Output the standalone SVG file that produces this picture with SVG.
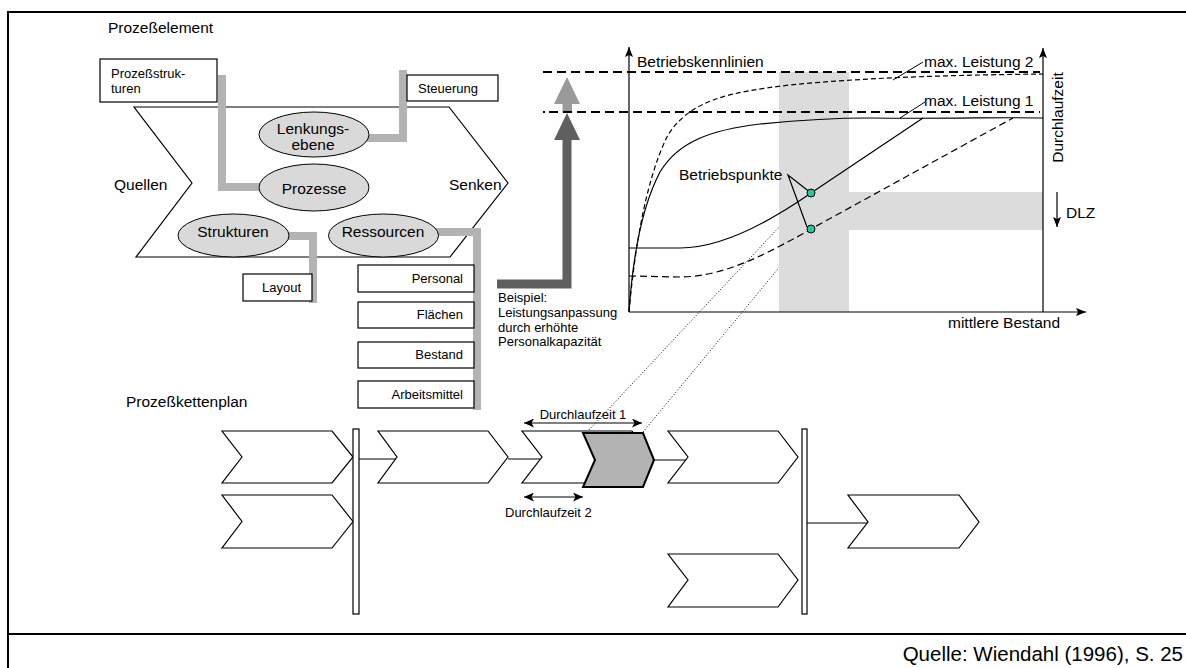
<svg xmlns="http://www.w3.org/2000/svg" width="1186" height="668" viewBox="0 0 1186 668">
<defs>
<style>
text{font-family:"Liberation Sans",Arial,sans-serif;fill:#000}
.l{font-size:15.5px}
.s{font-size:13px}
.box{fill:#fff;stroke:#000;stroke-width:1.2}
.ell{fill:#d9d9d9;stroke:#000;stroke-width:1}
.gc{fill:none;stroke:#b3b3b3;stroke-width:8;stroke-linejoin:miter}
.chev{fill:#fff;stroke:#000;stroke-width:1.2}
.ln{fill:none;stroke:#000;stroke-width:1.2}
.dot{fill:none;stroke:#000;stroke-width:1;stroke-dasharray:1 2}
.band{fill:#dcdcdc}
.pt{fill:#1fc89e;stroke:#000;stroke-width:1}
</style>
<marker id="ax" viewBox="0 0 10 8" markerWidth="10" markerHeight="8" refX="10" refY="4" orient="auto" markerUnits="userSpaceOnUse">
<path d="M0,0 L10,4 L0,8 L2,4 z" fill="#000"/>
</marker>
<marker id="ah" viewBox="0 0 10 9" markerWidth="10" markerHeight="9" refX="10" refY="4.5" orient="auto-start-reverse" markerUnits="userSpaceOnUse">
<path d="M0,0 L10,4.5 L0,9 L2.5,4.5 z" fill="#000"/>
</marker>
</defs>
<rect x="0" y="0" width="1186" height="668" fill="#fff"/>
<g id="frame">
<path d="M1186,12 L8,12 L8,668" fill="none" stroke="#000" stroke-width="2"/>
<line x1="8" y1="634" x2="1186" y2="634" stroke="#000" stroke-width="2.2"/>
<text x="1183" y="661" font-size="20.5" text-anchor="end">Quelle: Wiendahl (1996), S. 25</text>
</g>

<g id="prozesselement">
<text class="l" x="108" y="33">Prozeßelement</text>
<polygon class="chev" points="134,107 449,107 508,183 450,257 136,257 192,183"/>
<text class="l" x="114" y="190">Quellen</text>
<text class="l" x="449" y="190">Senken</text>
</g>

<g id="connectors">
<polyline class="gc" points="222,75 222,187 262,187"/>
<polyline class="gc" points="403,70 403,138 366,138"/>
<polyline class="gc" points="286,236 313,236 313,303"/>
<polyline class="gc" points="436,232 477,232 477,410"/>
<line class="dot" x1="587" y1="432" x2="811" y2="193"/>
<line class="dot" x1="643" y1="432" x2="811" y2="229"/>
</g>

<g id="box-prozessstrukturen">
<rect class="box" x="100" y="59" width="117" height="43"/>
<text class="s" x="111" y="78">Prozeßstruk-</text>
<text class="s" x="111" y="93">turen</text>
</g>
<g id="box-steuerung">
<rect class="box" x="407" y="75" width="91" height="26"/>
<text class="s" x="418" y="93">Steuerung</text>
</g>
<g id="ell-lenkung">
<ellipse class="ell" cx="314" cy="134.5" rx="55" ry="22.5"/>
<text class="l" x="313" y="134" text-anchor="middle">Lenkungs-</text>
<text class="l" x="313" y="150" text-anchor="middle">ebene</text>
</g>
<g id="ell-prozesse">
<ellipse class="ell" cx="314" cy="187.5" rx="55" ry="23.5"/>
<text class="l" x="314" y="194" text-anchor="middle">Prozesse</text>
</g>
<g id="ell-strukturen">
<ellipse class="ell" cx="233.5" cy="235.5" rx="55.5" ry="21.5"/>
<text class="l" x="233" y="237" text-anchor="middle">Strukturen</text>
</g>
<g id="ell-ressourcen">
<ellipse class="ell" cx="383.5" cy="235.5" rx="55" ry="21.5"/>
<text class="l" x="383" y="237" text-anchor="middle">Ressourcen</text>
</g>
<g id="box-layout">
<rect class="box" x="243" y="274" width="69" height="27"/>
<text class="s" x="262" y="292">Layout</text>
</g>
<g id="box-personal">
<rect class="box" x="358" y="265" width="116" height="27"/>
<text class="s" x="463" y="283" text-anchor="end">Personal</text>
</g>
<g id="box-flaechen">
<rect class="box" x="358" y="302" width="116" height="26"/>
<text class="s" x="463" y="319" text-anchor="end">Flächen</text>
</g>
<g id="box-bestand">
<rect class="box" x="358" y="342" width="116" height="26"/>
<text class="s" x="463" y="359" text-anchor="end">Bestand</text>
</g>
<g id="box-arbeitsmittel">
<rect class="box" x="358" y="381" width="116" height="27"/>
<text class="s" x="463" y="399" text-anchor="end">Arbeitsmittel</text>
</g>

<g id="beispiel">
<polyline points="497,284 567,284 567,138" fill="none" stroke="#5f5f5f" stroke-width="9" stroke-linejoin="miter"/>
<polygon points="554,140 567,113 580,140" fill="#5f5f5f"/>
<rect x="562.5" y="102" width="9.5" height="11" fill="#9a9a9a"/>
<polygon points="554,104 567,77 580,104" fill="#9a9a9a"/>
<text class="s" x="498" y="302">Beispiel:</text>
<text class="s" x="498" y="317">Leistungsanpassung</text>
<text class="s" x="498" y="332">durch erhöhte</text>
<text class="s" x="498" y="346">Personalkapazität</text>
</g>

<g id="chart">
<rect class="band" x="779" y="72" width="70" height="240"/>
<rect class="band" x="849" y="192" width="194" height="38"/>
<line x1="543" y1="72" x2="1040" y2="72" stroke="#000" stroke-width="2" stroke-dasharray="9 5"/>
<line x1="543" y1="112" x2="1040" y2="112" stroke="#000" stroke-width="2" stroke-dasharray="2 4 9 5 9 5 9 5 9 5 9 5 9 5 9 5 9 5 9 5 9 5 9 5 9 5 9 5 9 5 9 5 9 5 9 5 9 5 9 5 9 5 9 5 9 5 9 5 9 5 9 5 9 5 9 5 9 5 9 5 9 5 9 5 9 5 9 5 9 5 9 5 9 5 9 5 9 5 9 5 9 5"/>
<path class="ln" d="M629,312 C632,268 640,210 660,172 C678,142 710,130 760,124 C800,120 830,118 870,118 C950,119 1000,117 1043,118"/>
<path d="M629,312 C634,255 645,180 668,135 C690,100 730,92 790,85 C870,77 960,75 1043,74" fill="none" stroke="#000" stroke-width="1.2" stroke-dasharray="5 3"/>
<path class="ln" d="M629,248 L680,248 C710,248 742,236 780,213 C795,204 805,197 811,193 L923,118"/>
<path d="M629,276 L680,277 C710,277 742,266 780,246 C795,238 805,233 811,229 L1013,118" fill="none" stroke="#000" stroke-width="1.2" stroke-dasharray="7 4"/>
<line class="ln" x1="629" y1="312" x2="629" y2="47" marker-end="url(#ax)"/>
<line class="ln" x1="629" y1="312" x2="1086" y2="312" marker-end="url(#ax)"/>
<line class="ln" x1="1043" y1="312" x2="1043" y2="48" marker-end="url(#ax)"/>
<text class="l" x="637" y="67">Betriebskennlinien</text>
<line x1="893" y1="80" x2="923" y2="62" stroke="#000" stroke-width="1"/>
<text class="l" x="924" y="67">max. Leistung 2</text>
<line x1="900" y1="118" x2="925" y2="102" stroke="#000" stroke-width="1"/>
<text class="l" x="924" y="106">max. Leistung 1</text>
<text class="l" transform="translate(1063,117.5) rotate(-90)" text-anchor="middle">Durchlaufzeit</text>
<line class="ln" x1="1057" y1="192" x2="1057" y2="227" marker-end="url(#ax)"/>
<text class="l" x="1066" y="218">DLZ</text>
<text class="l" x="948" y="328">mittlere Bestand</text>
<polyline points="811,193 788,175 807,227" fill="none" stroke="#000" stroke-width="1.2"/>
<text class="l" x="679" y="180">Betriebspunkte</text>
<circle class="pt" cx="811" cy="193" r="4"/>
<circle class="pt" cx="811" cy="229" r="4"/>
</g>

<g id="prozesskettenplan">
<text class="l" x="126" y="407">Prozeßkettenplan</text>
</g>
<g id="chain-lines">
<line class="ln" x1="359" y1="459" x2="397" y2="459"/>
<line class="ln" x1="508" y1="459" x2="542" y2="459"/>
<line class="ln" x1="654" y1="460" x2="688" y2="460"/>
<line class="ln" x1="807" y1="523" x2="868" y2="523"/>
</g>
<g id="chev-a"><polygon class="chev" points="222,431 332,431 353,457 332,483 222,483 242,457"/></g>
<g id="chev-b"><polygon class="chev" points="222,495 332,495 353,521.5 332,548 222,548 242,521.5"/></g>
<g id="bar-1"><rect class="box" x="353" y="429" width="6" height="185"/></g>
<g id="chev-c"><polygon class="chev" points="378,431 488,431 508,457 488,483 378,483 397,457"/></g>
<g id="chev-d"><polygon class="chev" points="522,431 632,431 653,457 632,483 522,483 542,457"/></g>
<g id="chev-e"><polygon points="583,433 643,433 654,460 643,487 583,487 595,460" fill="#b3b3b3" stroke="#000" stroke-width="2"/></g>
<g id="chev-f"><polygon class="chev" points="668,431 778,431 798,457 778,483 668,483 688,457"/></g>
<g id="chev-g"><polygon class="chev" points="668,554 778,554 798,580 778,607 668,607 688,580"/></g>
<g id="bar-2"><rect class="box" x="802" y="429" width="5" height="185"/></g>
<g id="chev-h"><polygon class="chev" points="848,495 959,495 979,522 959,548 848,548 868,522"/></g>
<g id="durchlaufzeit">
<line class="ln" x1="524" y1="423" x2="642" y2="423" marker-start="url(#ah)" marker-end="url(#ah)"/>
<text class="s" x="583" y="419" text-anchor="middle">Durchlaufzeit 1</text>
<line class="ln" x1="524" y1="497" x2="583" y2="497" marker-start="url(#ah)" marker-end="url(#ah)"/>
<text class="s" x="505" y="517">Durchlaufzeit 2</text>
</g>
</svg>
